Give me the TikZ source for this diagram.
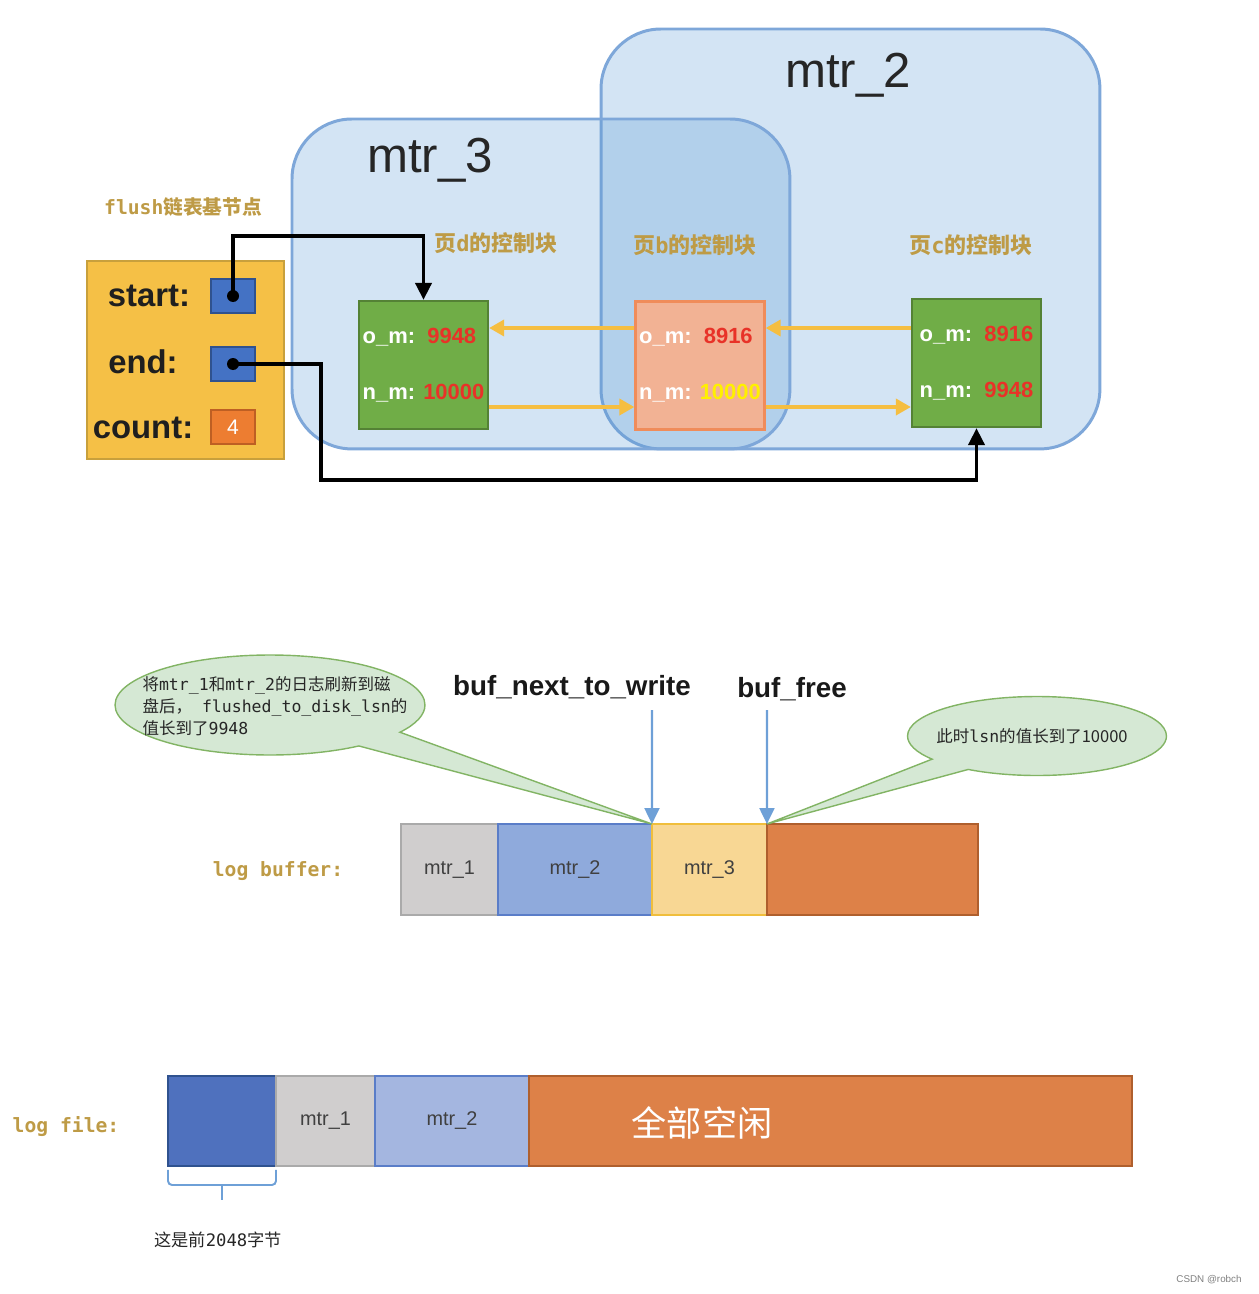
\documentclass[tikz,border=0pt]{standalone}
\usepackage{fontspec}
\setmainfont{Liberation Sans}
\newfontfamily\cjk{Noto Sans CJK SC}
\newfontfamily\mono{DejaVu Sans Mono}
\usetikzlibrary{arrows.meta,shapes.callouts}

\newcommand{\mn}[1]{{\mono #1}}

\definecolor{mtrblue}{RGB}{91,155,213}
\definecolor{mtrline}{RGB}{126,167,217}
\definecolor{headfill}{RGB}{245,192,70}
\definecolor{headline}{RGB}{200,160,60}
\definecolor{ptrblue}{RGB}{68,114,196}
\definecolor{ptrline}{RGB}{47,82,143}
\definecolor{cntorange}{RGB}{237,125,49}
\definecolor{cntline}{RGB}{190,95,35}
\definecolor{cardgreen}{RGB}{112,173,71}
\definecolor{cardline}{RGB}{84,130,53}
\definecolor{cardpink}{RGB}{242,178,148}
\definecolor{cardpinkline}{RGB}{240,140,90}
\definecolor{numred}{RGB}{232,50,40}
\definecolor{numyellow}{RGB}{255,240,0}
\definecolor{labelgold}{RGB}{190,155,70}
\definecolor{flowyellow}{RGB}{245,190,65}
\definecolor{notegreen}{RGB}{213,232,212}
\definecolor{noteline}{RGB}{130,180,100}
\definecolor{arrowblue}{RGB}{110,160,215}
\definecolor{seggray}{RGB}{208,206,206}
\definecolor{seggrayline}{RGB}{170,170,170}
\definecolor{segblue}{RGB}{143,170,220}
\definecolor{segblueline}{RGB}{90,125,200}
\definecolor{segblue2}{RGB}{164,182,224}
\definecolor{segyellow}{RGB}{248,215,148}
\definecolor{segyellowline}{RGB}{240,190,60}
\definecolor{segorange}{RGB}{221,129,72}
\definecolor{segorangeline}{RGB}{175,95,45}
\definecolor{blkblue}{RGB}{79,113,190}
\definecolor{blkline}{RGB}{47,82,143}

\tikzset{
  group/.style={draw=mtrline, line width=1.7pt, fill=mtrblue, fill opacity=0.27, rounded corners=1.2cm, anchor=north west, inner sep=0, outer sep=0},
  grouplabel/.style={font=\fontsize{28pt}{30pt}\selectfont, text=black!85},
  headbox/.style={draw=headline, line width=1.2pt, fill=headfill, anchor=north west, inner sep=0},
  field/.style={font=\bfseries\fontsize{18.7pt}{22pt}\selectfont, text=black!88},
  ptr/.style={draw=ptrline, line width=1pt, fill=ptrblue, minimum width=0.88cm, minimum height=0.68cm, inner sep=0, font=\fontsize{12pt}{14pt}\selectfont},
  dot/.style={circle, fill=black, minimum size=0.24cm, inner sep=0},
  card/.style={draw=cardline, line width=1.3pt, fill=cardgreen, minimum width=2.58cm, minimum height=2.56cm, inner sep=0, align=left, text=white, font=\bfseries\fontsize{12.5pt}{15pt}\selectfont},
  goldlabel/.style={text=labelgold, font=\cjk\bfseries\fontsize{11.2pt}{13pt}\selectfont},
  link/.style={draw=black, line width=2.2pt, -{Triangle[length=0.34cm,width=0.32cm]}},
  flow/.style={draw=flowyellow, line width=2.1pt, -{Triangle[length=0.3cm,width=0.32cm]}},
  note/.style={ellipse callout, draw=noteline, line width=0.8pt, fill=notegreen, inner sep=0, callout pointer arc=22},
  notetext/.style={align=left, text=black!85, font=\cjk\fontsize{9.4pt}{12.5pt}\selectfont},
  ptrlabel/.style={font=\bfseries\fontsize{15.8pt}{18pt}\selectfont, text=black!90},
  bufptr/.style={draw=arrowblue, line width=1.2pt, -{Triangle[length=0.32cm,width=0.3cm]}},
  seg/.style={anchor=north west, inner sep=0, outer sep=0, line width=1.2pt, minimum height=1.82cm, text=black!75, font=\fontsize{11.3pt}{13pt}\selectfont},
  brace/.style={draw=arrowblue, line width=1.1pt, rounded corners=0.08cm},
}

\begin{document}
\begin{tikzpicture}[x=0.02cm,y=-0.02cm]
    \pgfmathsetmacro{\fileheight}{1.8}
    \providecommand{\cardlabelfont}{\cjk\bfseries\fontsize{12.5pt}{14pt}\selectfont}
    \useasboundingbox (0,0) rectangle (1258,1294);

    % mini-transactions
    \node[group,minimum width=9.98cm,minimum height=8.4cm] (g2) at (601,29) {};
    \node[group,minimum width=9.96cm,minimum height=6.6cm] (g3) at (292,119) {};
    \node[grouplabel] (g2lbl) at (848,75) {mtr\_2};
    \node[grouplabel] (g3lbl) at (430,160) {mtr\_3};

    % flush list base node
    \node[goldlabel] (flushlbl) at (183,207) {\mn{flush}链表基节点};
    \node[headbox,minimum width=3.94cm,minimum height=3.96cm] (head) at (86,260) {};
    \node[field] (startlbl) at (149,296) {start:};
    \node[field] (endlbl) at (143,362) {end:};
    \node[field] (countlbl) at (143,428) {count:};
    \node[ptr] (sptr) at (233,296) {};
    \node[ptr] (eptr) at (233,364) {};
    \node[ptr,fill=cntorange,draw=cntline,text=white] (cnt) at (233,427) {4};
    \node[dot] (sdot) at (sptr.center) {};
    \node[dot] (edot) at (eptr.center) {};

    % control blocks
    \node[goldlabel,font=\cardlabelfont] (dlbl) at (496,243) {页\mn{d}的控制块};
    \node[goldlabel,font=\cardlabelfont] (blbl) at (695,245) {页\mn{b}的控制块};
    \node[goldlabel,font=\cardlabelfont] (clbl) at (971,245) {页\mn{c}的控制块};
    \node[card] (d) at (423.5,365) {o\_m:\ \ {\color{numred}9948}\\[17pt]n\_m: {\color{numred}10000}};
    \node[card,fill=cardpink,draw=cardpinkline] (b) at (700,365.5) {o\_m:\ \ {\color{numred}8916}\\[17pt]n\_m: {\color{numyellow}10000}};
    \node[card] (c) at (976.5,363) {o\_m:\ \ {\color{numred}8916}\\[17pt]n\_m:\ \ {\color{numred}9948}};

    \coordinate (flowup) at (0,328);
    \coordinate (flowdown) at (0,407);
    \draw[flow] (b.west |- flowup) -- (d.east |- flowup);
    \draw[flow] (d.east |- flowdown) -- (b.west |- flowdown);
    \draw[flow] (c.west |- flowup) -- (b.east |- flowup);
    \draw[flow] (b.east |- flowdown) -- (c.west |- flowdown);

    \coordinate (railtop) at (0,236);
    \coordinate (raillow) at (321,480);
    \draw[link] (sdot.center) |- (d.north |- railtop) -- (d.north);
    \draw[link] (edot.center) -| (raillow) -| (c.south);

    % log buffer
    \node[goldlabel] (buflbl) at (278,871) {\mn{log buffer:}};
    \node[seg,fill=seggray,draw=seggrayline,minimum width=1.94cm] (bm1) at (401,824) {mtr\_1};
    \node[seg,fill=segblue,draw=segblueline,minimum width=3.08cm] (bm2) at (bm1.north east) {mtr\_2};
    \node[seg,fill=segyellow,draw=segyellowline,minimum width=2.3cm] (bm3) at (bm2.north east) {mtr\_3};
    \node[seg,fill=segorange,draw=segorangeline,minimum width=4.22cm] (bfree) at (bm3.north east) {};

    \node[note,minimum width=6.2cm,minimum height=2cm,callout absolute pointer={(bm3.north west)}] (lnote) at (270,705) {};
    \node[notetext] (lnotetxt) at (275,706) {将\mn{mtr\_1}和\mn{mtr\_2}的日志刷新到磁\\盘后，\mn{ flushed\_to\_disk\_lsn}的\\值长到了\mn{9948}};
    \node[note,minimum width=5.18cm,minimum height=1.58cm,callout absolute pointer={(bfree.north west)}] (rnote) at (1037,736) {};
    \node[notetext] (rnotetxt) at (1032,736) {此时\mn{lsn}的值长到了10000};

    \node[ptrlabel] (nextlbl) at (572,687) {buf\_next\_to\_write};
    \node[ptrlabel] (freelbl) at (792,689) {buf\_free};
    \coordinate (nexttop) at (652,710);
    \coordinate (freetop) at (767,710);
    \draw[bufptr] (nexttop) -- (bm3.north west);
    \draw[bufptr] (freetop) -- (bfree.north west);

    % log file
    \node[goldlabel] (filelbl) at (66,1127) {\mn{log file:}};
    \node[seg,fill=blkblue,draw=blkline,minimum width=2.16cm,minimum height=\fileheight cm] (fblk) at (168,1076) {};
    \node[seg,fill=seggray,draw=seggrayline,minimum width=1.98cm,minimum height=\fileheight cm] (fm1) at (fblk.north east) {mtr\_1};
    \node[seg,fill=segblue2,draw=segblueline,minimum width=3.08cm,minimum height=\fileheight cm] (fm2) at (fm1.north east) {mtr\_2};
    \node[seg,fill=segorange,draw=segorangeline,minimum width=12.06cm,minimum height=\fileheight cm] (ffree) at (fm2.north east) {};
    \node[text=white,font=\cjk\fontsize{20pt}{22pt}\selectfont] (freetxt) at (702,1123) {全部空闲};

    \draw[brace] ([yshift=-0.08cm]fblk.south west) -- ++(0,15) -- ([yshift=-0.38cm]fblk.south east) -- ++(0,-15);
    \draw[brace] ([yshift=-0.38cm]fblk.south) -- ++(0,15);
    \node[notetext,font=\cjk\fontsize{9.8pt}{12pt}\selectfont] (bracelbl) at (218,1240) {这是前\mn{2048}字节};

    \node[text=black!50,font=\fontsize{5.6pt}{6pt}\selectfont] (mark) at (1209,1280) {CSDN @robch};
\end{tikzpicture}
\end{document}
